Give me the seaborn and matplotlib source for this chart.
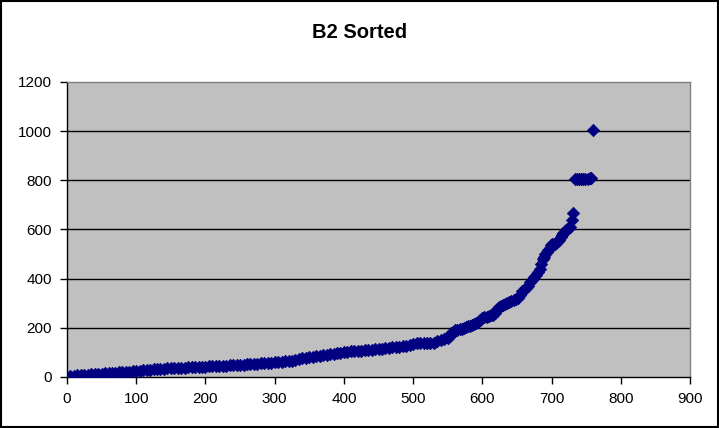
import pandas as pd
import matplotlib
matplotlib.use('Agg')
import matplotlib.pyplot as plt
import seaborn as sns
from matplotlib.patches import Rectangle

# sorted values (index, value)
idx_flat = [0, 5, 10, 15, 20, 25, 30, 35, 40, 45, 50, 55, 60, 65, 70, 75, 80, 85, 90, 95,
            100, 105, 110, 115, 120, 125, 130, 135, 140, 145, 150, 155, 160, 165, 170, 175,
            180, 185, 190, 195, 200, 205, 210, 215, 220, 225, 230, 235, 240, 245, 250, 255,
            260, 265, 270, 275, 280, 285, 290, 295, 300, 305, 310, 315, 320, 325, 330, 335,
            340, 345, 350, 355, 360, 365, 370, 375, 380, 385, 390, 395, 400, 405, 410, 415,
            420, 425, 430, 435, 440, 445, 450, 455, 460, 465, 470, 475, 480, 485, 490, 495,
            500, 505, 510, 515, 520, 525, 530, 535, 540, 545, 550, 553, 555, 558]
val_flat = [1, 3, 5, 7, 8, 9, 10, 11, 12, 13, 14, 15, 16, 17, 18, 19, 19, 20, 21, 23,
            24, 26, 27, 28, 30, 31, 32, 33, 34, 35, 36, 37, 37, 38, 38, 39,
            40, 40, 41, 41, 42, 43, 43, 44, 45, 45, 46, 47, 47, 48, 49, 49,
            51, 52, 53, 54, 55, 56, 57, 58, 60, 61, 62, 63, 64, 66, 68, 72,
            76, 78, 81, 83, 85, 87, 88, 90, 93, 95, 97, 99, 101, 102, 104, 105,
            106, 107, 108, 109, 110, 112, 113, 115, 117, 118, 120, 121, 123, 125, 128, 132,
            136, 137, 138, 138, 138, 139, 140, 146, 152, 156, 160, 165, 178, 185]

idx_steep = [561, 564, 567, 570, 573, 576, 579, 582, 585, 588, 591, 594, 597, 600, 603, 606,
             609, 612, 615, 618, 621, 624, 627, 630, 633, 636, 639, 642, 645, 648, 651, 654,
             657, 660, 663, 666, 669, 672, 675, 678, 681, 683, 685, 687, 689, 691, 693, 695,
             697, 699, 701, 703, 705, 707, 709, 711, 713, 715, 717, 719, 721, 723, 725, 727,
             729, 731]
val_steep = [190, 192, 195, 197, 200, 203, 206, 209, 213, 217, 220, 225, 230, 238, 242, 245,
             248, 251, 253, 262, 278, 284, 288, 292, 296, 300, 304, 308, 313, 318, 322, 335,
             348, 355, 362, 372, 385, 396, 405, 415, 425, 440, 460, 478, 490, 502, 510, 517,
             525, 535, 540, 541, 542, 545, 552, 558, 568, 578, 586, 592, 598, 602, 606, 612,
             640, 667]

idx_top = [734, 737, 740, 743, 746, 749, 752, 755, 757, 760]
val_top = [805, 805, 805, 806, 806, 806, 807, 810, 810, 1005]

df = pd.DataFrame({'idx': idx_flat + idx_steep + idx_top,
                   'value': val_flat + val_steep + val_top})

sns.set_style('white')
plt.rcParams['font.family'] = ['Liberation Sans', 'DejaVu Sans']
plt.rcParams['text.color'] = 'black'

fig = plt.figure(figsize=(7.19, 4.28), dpi=100)
ax = fig.add_axes([0.0932, 0.1192, 0.8665, 0.6893])
ax.set_facecolor('#C0C0C0')

sns.scatterplot(data=df, x='idx', y='value', marker='D', s=40, color='#000080',
                edgecolor='#000080', linewidth=0.5, ax=ax, zorder=3)

ax.set_xlim(0, 900)
ax.set_ylim(0, 1200)
ax.set_xticks(range(0, 901, 100))
ax.set_yticks(range(0, 1201, 200))
ax.set_xlabel('')
ax.set_ylabel('')
for y in range(200, 1001, 200):
    ax.axhline(y, color='black', linewidth=1, zorder=1)

ax.tick_params(axis='both', direction='out', length=5, width=1, color='black',
               labelsize=11, labelcolor='black', pad=6)
ax.tick_params(axis='x', bottom=True)
ax.tick_params(axis='y', left=True)
ax.spines['left'].set_color('black')
ax.spines['bottom'].set_color('black')
ax.spines['top'].set_color('#808080')
ax.spines['right'].set_color('#808080')
for s in ax.spines.values():
    s.set_linewidth(1)

fig.text(0.5, 0.925, 'B2 Sorted', ha='center', va='center', fontsize=14.5,
         fontweight='bold', color='black')
fig.patches.append(Rectangle((0.001, 0.002), 0.997, 0.996, transform=fig.transFigure,
                             fill=False, edgecolor='black', linewidth=1.5))

fig.savefig('out.png', dpi=100, facecolor='white')
